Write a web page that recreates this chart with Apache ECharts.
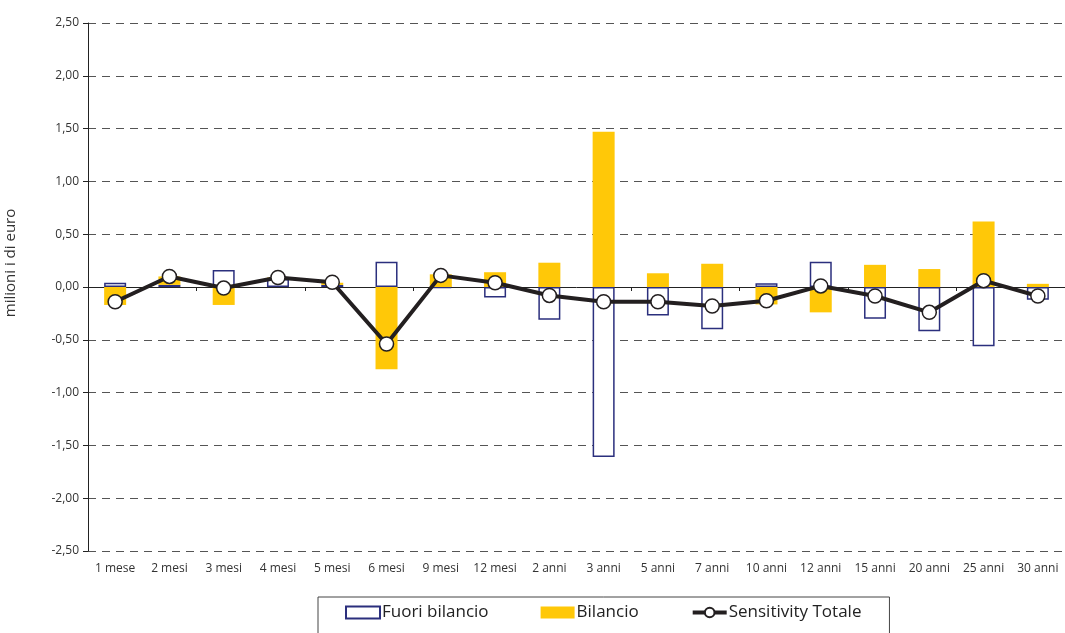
<!DOCTYPE html>
<html lang="it">
<head>
  <meta charset="UTF-8">
  <title>Sensitivity</title>
  <style>
    html, body { margin: 0; padding: 0; background: #fff; overflow: hidden; }
  </style>
</head>
<body>
  <div id="main" style="width:1065px;height:633px;"></div>
  <script src="https://cdn.jsdelivr.net/npm/echarts@6/dist/echarts.min.js"></script>
  <script>
  // scadenze
  var categories = ['1 mese', '2 mesi', '3 mesi', '4 mesi', '5 mesi', '6 mesi', '9 mesi', '12 mesi',
    '2 anni', '3 anni', '5 anni', '7 anni', '10 anni', '12 anni', '15 anni', '20 anni', '25 anni', '30 anni']
  // milioni di euro
  var fuoriBilancio = [0.04, 0.02, 0.16, 0.075, 0.02, 0.24, -0.01, -0.10,
    -0.31, -1.61, -0.27, -0.40, 0.035, 0.24, -0.30, -0.42, -0.56, -0.12]
  var bilancio = [-0.17, 0.08, -0.17, 0.015, 0.02, -0.78, 0.12, 0.14,
    0.23, 1.47, 0.13, 0.22, -0.165, -0.24, 0.21, 0.17, 0.62, 0.03]
  var sensitivityTotale = [-0.14, 0.10, -0.01, 0.09, 0.045, -0.54, 0.11, 0.04,
    -0.08, -0.14, -0.14, -0.18, -0.13, 0.01, -0.085, -0.24, 0.06, -0.085]
  var yTicks = { min: -2.5, max: 2.5, step: 0.5 }

  var font = 'Open Sans'
  var myChart = echarts.init(document.getElementById('main'))
  var option = {
    animation: false,
    textStyle: { fontFamily: font },
    grid: { left: 88, right: 0, top: 23, bottom: 82 },
    legend: {
      left: 318,
      top: 597,
      padding: [7, 28, 16, 27],
      itemGap: 52,
      itemWidth: 34,
      itemHeight: 12,
      borderColor: '#444',
      borderWidth: 1,
      textStyle: { fontFamily: font, fontSize: 17, color: '#222', padding: [0, 0, 0, -3] },
      data: [
        { name: 'Fuori bilancio', icon: 'rect' },
        { name: 'Bilancio', icon: 'rect' },
        { name: 'Sensitivity Totale', lineStyle: { width: 4 } }
      ]
    },
    xAxis: [{
      type: 'category',
      data: categories,
      position: 'bottom',
      axisLine: { onZero: false, show: false },
      axisTick: { show: false },
      axisLabel: { color: '#333', fontSize: 12, margin: 12, interval: 0 }
    }, {
      type: 'category',
      data: categories,
      position: 'bottom',
      axisLine: { onZero: true, lineStyle: { color: '#222', width: 1 } },
      axisTick: { show: true, length: 4, lineStyle: { color: '#222' } },
      axisLabel: { show: false }
    }],
    yAxis: {
      type: 'value',
      min: yTicks.min,
      max: yTicks.max,
      interval: yTicks.step,
      axisLine: { show: true, lineStyle: { color: '#222', width: 1 } },
      axisTick: { show: true, length: 5, lineStyle: { color: '#222' } },
      axisLabel: {
        color: '#333',
        fontSize: 12,
        margin: 9,
        formatter: function (v) { return v.toFixed(2).replace('.', ',') }
      },
      splitLine: { lineStyle: { color: '#555', type: [8, 6], width: 1 } }
    },
    graphic: [{
      type: 'text',
      x: 11,
      y: 263,
      rotation: Math.PI / 2,
      style: {
        text: 'milioni i di euro',
        font: '15px "Open Sans"',
        fill: '#333',
        textAlign: 'center',
        textVerticalAlign: 'middle'
      }
    }],
    series: [{
      name: 'Fuori bilancio',
      type: 'bar',
      stack: 'tot',
      barWidth: 22,
      data: fuoriBilancio,
      itemStyle: { color: '#ffffff', borderColor: '#2b2f7d', borderWidth: 1.5 }
    }, {
      name: 'Bilancio',
      type: 'bar',
      stack: 'tot',
      barWidth: 22,
      data: bilancio,
      itemStyle: { color: '#ffc808' }
    }, {
      name: 'Sensitivity Totale',
      type: 'line',
      data: sensitivityTotale,
      symbol: 'circle',
      symbolSize: 14,
      z: 5,
      lineStyle: { color: '#231f20', width: 4 },
      itemStyle: { color: '#ffffff', borderColor: '#231f20', borderWidth: 1.5 }
    }]
  }
  myChart.setOption(option)
  </script>
</body>
</html>
